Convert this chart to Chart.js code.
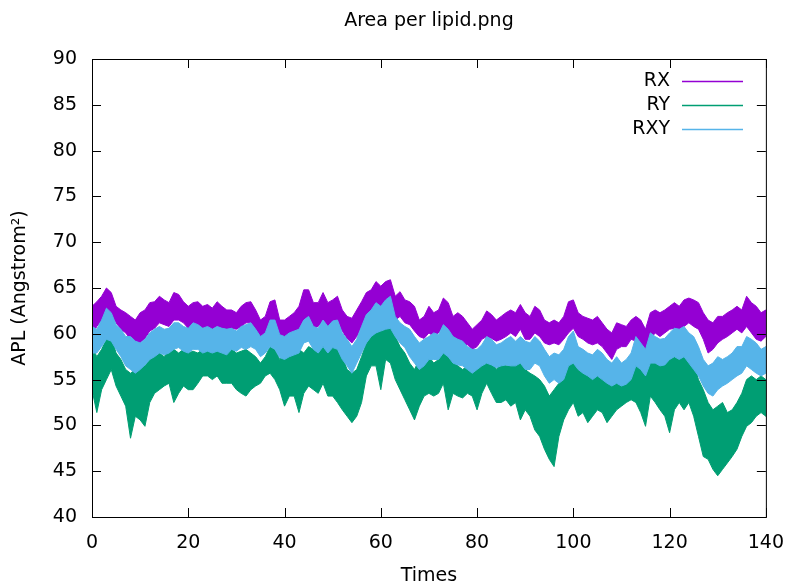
<!DOCTYPE html>
<html>
<head>
<meta charset="utf-8">
<script src="https://cdn.jsdelivr.net/npm/chart.js@4/dist/chart.umd.min.js"></script>
<style>
html,body{margin:0;padding:0;background:#fff;}
#wrap{width:791px;height:587px;}
</style>
</head>
<body>
<div id="wrap"><canvas id="aplChart" width="791" height="587"></canvas></div>
<script>
// time axis, one sample per unit
const times = Array.from({length: 141}, (_, i) => i);

const xTicks = [0, 20, 40, 60, 80, 100, 120, 140];
const yTicks = [40, 45, 50, 55, 60, 65, 70, 75, 80, 85, 90];

const seriesNames = ['RX', 'RY', 'RXY'];
const seriesColors = ['#9400d3', '#009e73', '#56b4e9'];

// upper / lower edge of each noisy band
const rxHigh = [
63.0,63.5,64.1,65.0,64.5,63.0,62.6,62.3,61.9,61.5,62.3,62.6,63.4,63.5,64.1,63.7,63.4,64.5,64.3,63.5,
63.0,63.4,63.5,63.0,63.2,62.8,63.5,63.0,62.6,62.6,62.3,63.0,63.4,63.5,62.6,61.5,61.9,63.5,63.7,61.5,
61.5,61.9,62.3,63.0,64.8,64.8,63.4,63.4,64.5,63.4,63.7,64.1,62.6,61.9,61.7,62.6,63.5,64.5,64.8,65.7,
65.2,65.7,65.9,64.1,64.6,63.7,63.5,63.0,61.5,61.9,63.0,62.3,62.6,63.9,63.4,61.9,62.3,61.9,61.2,60.5,
61.0,61.5,62.5,62.1,61.5,61.9,62.3,62.6,62.3,63.2,62.3,61.9,63.0,62.6,61.5,61.2,61.5,61.2,61.9,63.5,
63.7,62.3,61.9,61.7,61.5,61.9,61.2,60.5,60.1,61.2,61.0,60.8,61.5,61.9,61.5,60.5,62.3,62.6,62.3,62.6,
63.0,63.4,63.0,63.7,63.9,63.7,63.4,62.3,61.5,61.2,61.9,61.9,62.3,62.6,63.0,62.6,64.1,63.4,63.0,62.3,
62.6];
const rxLow = [
59.9,60.8,61.5,61.9,61.9,61.2,60.5,60.1,59.4,59.2,59.0,59.5,60.3,60.6,61.2,61.0,60.8,61.5,61.5,61.2,
60.6,60.8,61.0,60.6,60.6,60.5,60.8,60.6,60.5,60.6,60.5,60.8,61.2,61.2,60.1,59.2,59.4,60.8,60.3,58.8,
59.2,59.4,59.7,60.5,61.5,61.9,60.6,60.8,61.5,60.8,61.0,61.2,60.3,59.5,59.0,59.7,60.8,61.5,62.3,63.0,
63.0,63.4,63.4,61.5,61.9,61.2,61.0,60.3,59.7,59.5,60.1,59.7,60.1,60.8,60.1,59.4,59.2,59.0,58.8,58.3,
58.6,59.4,59.7,59.5,59.2,59.4,59.7,60.1,59.7,60.5,59.4,59.4,60.1,59.7,59.0,58.8,59.0,58.8,59.4,60.1,
60.6,59.7,59.4,59.0,58.8,59.0,58.6,57.9,57.2,58.3,58.6,58.6,59.4,59.2,58.6,57.5,59.4,60.1,59.7,60.1,
60.5,60.6,60.5,60.8,61.2,60.8,60.5,59.4,57.9,58.3,59.0,59.4,59.7,60.1,60.5,60.1,60.8,60.1,59.4,59.2,
59.7];
const ryHigh = [
58.6,57.5,58.3,59.4,59.7,57.9,57.2,56.1,55.7,56.1,56.5,56.5,57.2,57.9,57.9,57.5,58.3,58.3,57.9,58.3,
57.9,58.1,57.9,58.3,58.3,58.1,58.3,57.9,57.9,58.3,57.9,58.1,58.3,57.9,57.5,56.8,57.5,58.6,58.3,57.2,
57.9,58.3,57.9,58.3,57.9,58.6,58.3,57.9,59.0,58.3,58.6,58.3,57.5,56.1,55.7,56.1,57.5,59.0,59.7,60.5,
60.6,60.8,61.2,59.7,58.6,57.9,56.8,56.1,57.2,57.9,57.5,56.8,57.2,58.3,57.5,57.2,56.5,56.1,56.5,56.1,
56.8,57.2,57.9,57.2,56.1,56.8,56.5,56.5,56.8,57.2,56.1,55.7,55.4,55.0,54.3,53.2,53.9,54.6,55.7,57.2,
57.5,56.5,56.1,55.7,56.1,56.5,55.7,55.0,54.6,55.7,56.1,55.4,56.1,57.2,56.5,56.1,57.5,56.8,56.5,56.8,
57.2,57.5,57.9,57.5,57.9,56.8,55.0,53.9,52.5,51.7,52.1,52.5,51.4,51.7,52.5,53.5,55.0,55.4,55.0,55.4,
55.0];
const ryLow = [
53.9,51.4,53.9,55.0,56.1,54.3,53.2,52.1,48.6,51.0,50.6,49.9,52.5,53.5,53.9,54.3,54.6,52.5,53.5,54.3,
53.9,53.9,54.6,55.4,55.4,55.0,55.4,54.6,54.6,54.6,53.9,53.5,53.2,53.9,54.3,54.6,55.4,55.7,55.0,53.9,
52.1,53.2,53.2,51.4,53.5,54.3,53.9,53.5,54.6,53.2,53.2,52.5,51.7,51.0,50.3,51.0,52.5,55.4,56.5,56.5,
53.9,57.2,56.8,55.0,53.9,52.8,51.7,50.6,52.1,53.2,53.5,53.2,53.5,54.6,51.7,53.5,53.2,53.0,53.5,53.2,
51.7,53.5,54.6,53.5,52.5,52.5,52.8,52.1,52.5,50.6,51.7,51.0,49.5,48.8,47.4,46.3,45.5,48.8,50.6,51.7,
52.5,51.0,51.4,50.3,51.0,51.7,51.4,50.3,51.0,51.7,52.1,52.5,52.8,52.5,51.4,49.9,53.2,52.5,51.7,51.0,
49.2,51.7,52.5,51.7,52.5,51.0,48.8,46.6,46.3,45.2,44.5,45.2,45.9,46.6,47.4,48.8,49.9,50.3,51.0,51.4,
51.0];
const rxyHigh = [
60.8,60.5,61.5,62.8,62.3,61.0,60.5,59.7,59.7,59.2,59.0,59.4,60.1,60.5,60.8,60.5,60.6,61.2,61.2,60.8,
60.6,61.2,61.0,60.6,60.8,60.5,60.8,60.6,60.5,60.6,60.3,60.8,61.0,61.2,60.5,59.7,60.1,61.5,61.5,59.9,
59.7,60.1,60.3,60.5,61.5,61.9,60.8,60.6,61.5,60.8,61.4,61.5,60.1,59.4,58.6,59.4,60.8,62.1,62.6,63.4,
63.0,63.7,64.1,61.9,61.2,60.8,60.5,59.7,59.0,59.4,59.7,60.1,59.9,61.0,60.5,59.7,59.4,59.2,58.6,58.3,
58.3,58.8,59.7,59.4,58.8,59.0,59.4,59.7,59.2,59.7,59.2,59.0,59.7,59.2,58.3,57.5,57.9,57.7,58.3,59.7,
60.3,58.6,58.3,57.9,57.7,58.3,57.9,57.2,56.8,57.5,56.8,57.2,57.9,59.7,59.0,58.3,60.1,59.7,59.4,59.5,
60.1,60.6,60.5,60.8,60.1,59.7,58.6,57.2,56.5,56.8,57.5,57.2,57.5,57.9,58.6,58.6,59.7,59.4,59.0,58.3,
58.6];
const rxyLow = [
57.9,57.9,58.6,59.4,59.2,58.3,57.5,56.5,56.1,55.7,56.1,56.6,57.2,57.5,57.9,57.7,57.9,58.3,58.5,58.1,
57.9,58.3,58.3,57.9,58.1,57.9,58.1,57.9,57.7,58.3,58.1,58.5,58.3,58.6,58.3,57.5,57.9,58.6,58.3,57.4,
57.2,57.5,57.7,57.9,59.0,59.2,58.3,57.9,58.6,57.9,58.5,58.3,57.2,56.5,55.7,56.8,57.9,59.0,59.7,60.1,
60.3,60.5,60.6,59.7,59.0,58.5,57.5,56.8,56.1,56.5,57.2,57.2,57.2,57.9,57.5,56.8,56.6,56.5,56.1,55.7,
56.1,56.5,56.8,56.6,56.3,56.5,56.6,56.5,56.5,56.8,56.1,56.1,56.8,56.5,55.4,54.6,55.0,54.6,55.0,56.5,
56.8,56.1,55.7,55.4,55.0,55.4,55.0,54.6,54.3,54.6,54.3,54.5,55.0,56.5,56.1,55.4,56.8,56.8,56.5,56.6,
57.2,57.5,57.2,57.5,56.8,56.1,55.4,54.3,53.5,53.2,53.9,54.3,54.6,55.0,55.4,55.7,56.5,56.1,55.7,55.4,
55.7];

// outline of a band: along the upper edge, then back along the lower edge
function bandShape(high, low) {
  const pts = times.map((t, i) => ({x: t, y: high[i]}));
  for (let i = times.length - 1; i >= 0; i--) pts.push({x: times[i], y: low[i]});
  return pts;
}

const bands = [bandShape(rxHigh, rxLow), bandShape(ryHigh, ryLow), bandShape(rxyHigh, rxyLow)];

const FONT = 'DejaVu Sans';

// gnuplot style frame, inward ticks, title and key
const gnuplotFrame = {
  id: 'gnuplotFrame',
  afterDraw(chart) {
    const {ctx, chartArea: a, scales} = chart;
    ctx.save();
    ctx.strokeStyle = '#000';
    ctx.lineWidth = 1;
    ctx.strokeRect(a.left + 0.5, a.top + 0.5, a.right - a.left, a.bottom - a.top);
    ctx.beginPath();
    xTicks.forEach(v => {
      const px = Math.round(scales.x.getPixelForValue(v)) + 0.5;
      ctx.moveTo(px, a.bottom); ctx.lineTo(px, a.bottom - 9);
      ctx.moveTo(px, a.top); ctx.lineTo(px, a.top + 9);
    });
    yTicks.forEach(v => {
      const py = Math.round(scales.y.getPixelForValue(v)) + 0.5;
      ctx.moveTo(a.left, py); ctx.lineTo(a.left + 9, py);
      ctx.moveTo(a.right, py); ctx.lineTo(a.right - 9, py);
    });
    ctx.stroke();

    ctx.fillStyle = '#000';
    ctx.font = '19px "' + FONT + '"';
    ctx.textAlign = 'center';
    ctx.textBaseline = 'middle';
    ctx.fillText('Area per lipid.png', (a.left + a.right) / 2, 21);

    ctx.font = '19px "' + FONT + '"';
    ctx.textAlign = 'right';
    seriesNames.forEach((name, i) => {
      const y = 81 + i * 24;
      ctx.fillStyle = '#000';
      ctx.fillText(name, 670, y);
      ctx.strokeStyle = seriesColors[i];
      ctx.lineWidth = 1.5;
      ctx.beginPath();
      ctx.moveTo(682, y + 0.5);
      ctx.lineTo(743, y + 0.5);
      ctx.stroke();
    });
    ctx.restore();
  }
};

new Chart(document.getElementById('aplChart'), {
  type: 'line',
  data: {
    datasets: seriesNames.map((name, i) => ({
      label: name,
      data: bands[i],
      borderColor: seriesColors[i],
      backgroundColor: seriesColors[i],
      borderWidth: 1,
      pointRadius: 0,
      tension: 0,
      fill: 'shape',
      order: 3 - i
    }))
  },
  options: {
    responsive: false,
    animation: false,
    layout: {padding: {top: 59, right: 23, left: 0, bottom: 0}},
    plugins: {
      legend: {display: false},
      title: {display: false},
      tooltip: {enabled: false}
    },
    scales: {
      x: {
        type: 'linear',
        min: 0,
        max: 140,
        afterBuildTicks: s => { s.ticks = xTicks.map(v => ({value: v})); },
        afterFit: s => { s.height = 70; },
        grid: {display: false},
        border: {display: false},
        ticks: {color: '#000', font: {family: FONT, size: 19}, padding: 7, maxRotation: 0},
        title: {display: true, text: 'Times', color: '#000', font: {family: FONT, size: 19}, padding: {top: 0, bottom: 0}}
      },
      y: {
        min: 40,
        max: 90,
        afterBuildTicks: s => { s.ticks = yTicks.map(v => ({value: v})); },
        afterFit: s => { s.width = 92; },
        grid: {display: false},
        border: {display: false},
        ticks: {color: '#000', font: {family: FONT, size: 19}, padding: 7},
        title: {display: true, text: 'APL (Angstrom²)', color: '#000', font: {family: FONT, size: 19}, padding: {top: 9, bottom: 0}}
      }
    }
  },
  plugins: [gnuplotFrame]
});
</script>
</body>
</html>
